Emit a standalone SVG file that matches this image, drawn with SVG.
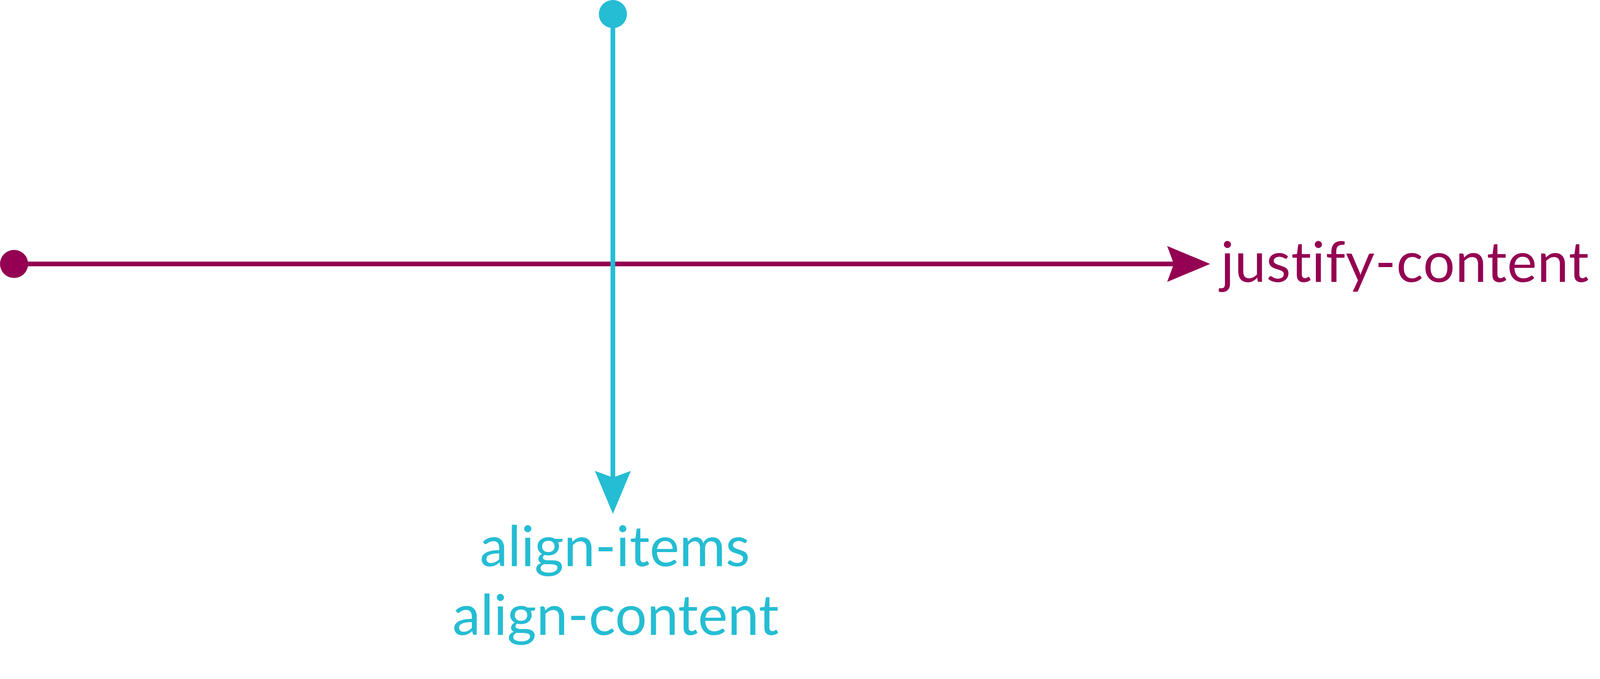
<svg xmlns="http://www.w3.org/2000/svg" width="4204" height="1739" viewBox="0 0 4204 1739">
<style>
.lbl{font-family:Lato,"Liberation Sans",sans-serif;font-size:144px}
.purple{fill:#940152}
.cyan{fill:#24BDD3}
.axis{fill:none;stroke-width:12}
</style>
<defs>
<marker id="arrowP" markerUnits="userSpaceOnUse" markerWidth="110" markerHeight="92" viewBox="0 0 110 92" refX="17" refY="46" orient="auto"><path d="M0,0 L110,46 L0,92 L17,46 Z" fill="#940152"/></marker>
<marker id="arrowC" markerUnits="userSpaceOnUse" markerWidth="110" markerHeight="92" viewBox="0 0 110 92" refX="17" refY="46" orient="auto"><path d="M0,0 L110,46 L0,92 L17,46 Z" fill="#24BDD3"/></marker>
<marker id="dotP" markerUnits="userSpaceOnUse" markerWidth="74" markerHeight="74" viewBox="0 0 74 74" refX="37" refY="37"><circle cx="37" cy="37" r="36" fill="#940152"/></marker>
<marker id="dotC" markerUnits="userSpaceOnUse" markerWidth="74" markerHeight="74" viewBox="0 0 74 74" refX="37" refY="37"><circle cx="37" cy="37" r="36" fill="#24BDD3"/></marker>
</defs>
<rect width="4204" height="1739" fill="#ffffff"/>
<g id="connectors">
<line id="main-axis" class="axis" x1="36" y1="676" x2="3005" y2="676" stroke="#940152" marker-start="url(#dotP)" marker-end="url(#arrowP)"/>
<line id="cross-axis" class="axis" x1="1569" y1="36" x2="1569" y2="1223" stroke="#24BDD3" marker-start="url(#dotC)" marker-end="url(#arrowC)"/>
</g>
<g id="justify-content-label">
<text class="lbl purple" x="3125" y="722" letter-spacing="1">justify-content</text>
</g>
<g id="align-label">
<text class="lbl cyan" x="1574" y="1450" text-anchor="middle">align-items</text>
<text class="lbl cyan" x="1576" y="1626" text-anchor="middle">align-content</text>
</g>
</svg>
